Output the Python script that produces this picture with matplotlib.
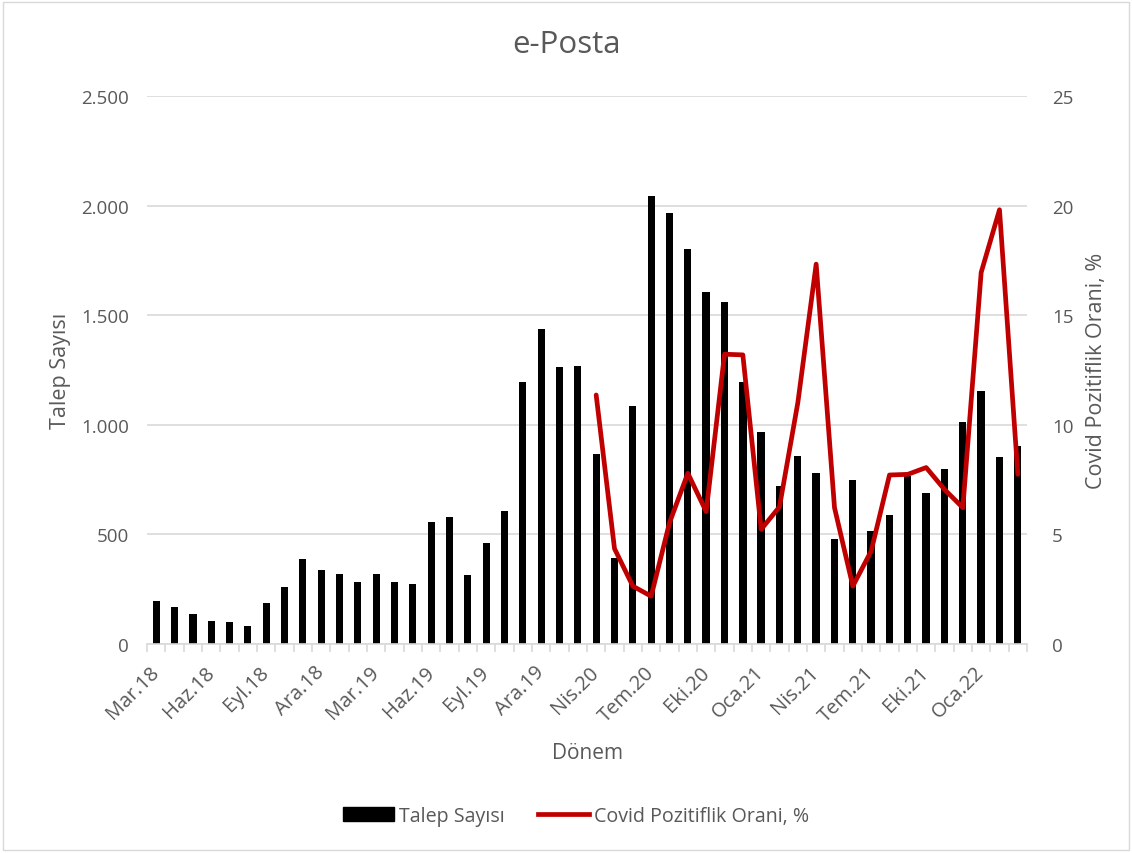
import numpy as np
import matplotlib
matplotlib.use("Agg")
import matplotlib.pyplot as plt
from matplotlib.patches import Rectangle
from matplotlib.lines import Line2D

months = ["Mar.18", "Nis.18", "May.18", "Haz.18", "Tem.18", "Ağu.18", "Eyl.18", "Eki.18", "Kas.18", "Ara.18",
          "Oca.19", "Şub.19", "Mar.19", "Nis.19", "May.19", "Haz.19", "Tem.19", "Ağu.19", "Eyl.19", "Eki.19",
          "Kas.19", "Ara.19", "Oca.20", "Şub.20", "Nis.20", "May.20", "Haz.20", "Tem.20", "Ağu.20", "Eyl.20",
          "Eki.20", "Kas.20", "Ara.20", "Oca.21", "Şub.21", "Mar.21", "Nis.21", "May.21", "Haz.21", "Tem.21",
          "Ağu.21", "Eyl.21", "Eki.21", "Kas.21", "Ara.21", "Oca.22", "Şub.22", "Mar.22"]

talep = [195, 168, 135, 107, 101, 80, 189, 261, 389, 339,
         320, 284, 320, 284, 272, 558, 579, 316, 463, 606,
         1193, 1437, 1262, 1267, 868, 392, 1088, 2046, 1964, 1800,
         1604, 1559, 1193, 967, 722, 859, 782, 480, 748, 514,
         590, 765, 689, 798, 1011, 1154, 853, 902]

covid = [np.nan] * 24 + [11.36, 4.35, 2.64, 2.18, 5.53, 7.79, 6.04, 13.22, 13.19, 5.23,
                         6.26, 11.01, 17.33, 6.22, 2.64, 4.24, 7.71, 7.74, 8.05, 7.05,
                         6.22, 16.95, 19.81, 7.74]

plt.rcParams['font.family'] = ['Open Sans', 'DejaVu Sans']
gray = "#595959"
grid = "#d9d9d9"

fig = plt.figure(figsize=(11.32, 8.54), dpi=100)
fig.patches.append(Rectangle((0.003, 0.003), 0.994, 0.994, transform=fig.transFigure,
                             fill=False, edgecolor="#d9d9d9", linewidth=1))
ax = fig.add_axes([147/1132, 1-645/854, (1027-147)/1132, (645-97)/854])
x = np.arange(len(months))
ax.bar(x, talep, width=0.4, color="black", zorder=2)
ax.set_xlim(-0.5, len(months) - 0.5)
ax.set_ylim(0, 2500)
ax.set_yticks(np.arange(0, 2501, 500))
ax.set_yticklabels(["0", "500", "1.000", "1.500", "2.000", "2.500"])
ax.yaxis.grid(True, color=grid, linewidth=1.2, zorder=0)
ax.set_axisbelow(True)
for s in ["top", "left", "right"]:
    ax.spines[s].set_visible(False)
ax.spines["bottom"].set_color(grid)
ax.spines["bottom"].set_linewidth(1.2)
ax.tick_params(axis="y", length=0, labelsize=13.5, labelcolor=gray, pad=13)
ax.set_xticks(x[::3])
ax.set_xticklabels(months[::3], rotation=45, ha="right", va="center", rotation_mode="anchor")
ax.tick_params(axis="x", length=0, labelsize=14.5, labelcolor=gray, pad=18)
ax.set_xticks(np.arange(-0.5, len(months), 1), minor=True)
ax.tick_params(axis="x", which="minor", length=6, color=grid, width=1.2)

ax2 = ax.twinx()
ax2.plot(x, covid, color="#C00000", linewidth=3.4, solid_joinstyle="round", solid_capstyle="round", zorder=3)
ax2.set_ylim(0, 25)
ax2.set_yticks(np.arange(0, 26, 5))
for s in ["top", "left", "right", "bottom"]:
    ax2.spines[s].set_visible(False)
ax2.tick_params(axis="y", length=0, labelsize=13.5, labelcolor=gray, pad=18)

ax.set_ylabel("Talep Sayısı", fontsize=15.5, color=gray, labelpad=7)
ax2.set_ylabel("Covid Pozitiflik Orani, %", fontsize=15.5, color=gray, labelpad=9)
ax.set_xlabel("Dönem", fontsize=15, color=gray, labelpad=12)
fig.text(0.5, 1-45/854, "e-Posta", ha="center", va="center", fontsize=22.5, color=gray)

handles = [Rectangle((0, 0), 1, 1, color="black"),
           Line2D([0], [0], color="#C00000", linewidth=3.4)]
fig.legend(handles, ["Talep Sayısı", "Covid Pozitiflik Orani, %"], loc="center",
           bbox_to_anchor=(0.509, 1-817/854), ncol=2, frameon=False, fontsize=14.1,
           labelcolor=gray, handlelength=2.6, handleheight=0.7, handletextpad=0.25, columnspacing=1.7)

fig.savefig("out.png", dpi=100)
